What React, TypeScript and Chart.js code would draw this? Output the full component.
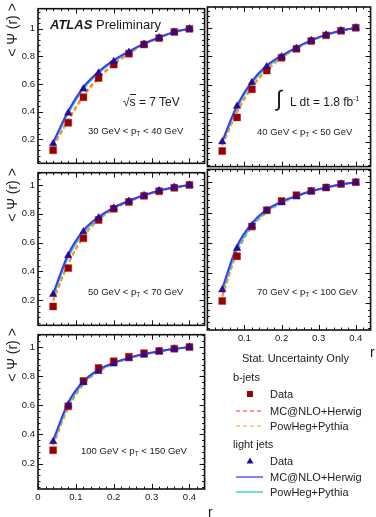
import React, { useEffect, useRef } from 'react';
import { Chart, registerables } from 'chart.js';

Chart.register(...registerables);

const FONT = '"Liberation Sans", Arial, Helvetica, sans-serif';
const TEXT = '#1a1a1a';

// r bin centres
const rBins = [0.04, 0.08, 0.12, 0.16, 0.2, 0.24, 0.28, 0.32, 0.36, 0.4];

// 30 GeV < pT < 40 GeV
const bData1 = [0.12, 0.32, 0.505, 0.644, 0.741, 0.82, 0.887, 0.933, 0.977, 1.0];
const lData1 = [0.168, 0.39, 0.565, 0.68, 0.764, 0.83, 0.889, 0.935, 0.977, 1.0];
const bMcnlo1 = [0.15, 0.345, 0.52, 0.65, 0.745, 0.822, 0.887, 0.935, 0.977, 1.0];
const bPowheg1 = [0.145, 0.335, 0.51, 0.64, 0.74, 0.818, 0.885, 0.933, 0.976, 1.0];
const lMcnlo1 = [0.178, 0.405, 0.578, 0.69, 0.773, 0.837, 0.893, 0.938, 0.978, 1.0];
const lPowheg1 = [0.165, 0.39, 0.565, 0.68, 0.765, 0.832, 0.89, 0.936, 0.977, 1.0];

// 40 GeV < pT < 50 GeV
const bData2 = [0.135, 0.371, 0.568, 0.7, 0.79, 0.852, 0.908, 0.947, 0.979, 1.0];
const lData2 = [0.2, 0.45, 0.616, 0.727, 0.797, 0.857, 0.91, 0.95, 0.98, 1.0];
const bMcnlo2 = [0.18, 0.41, 0.585, 0.705, 0.79, 0.855, 0.908, 0.948, 0.979, 1.0];
const bPowheg2 = [0.175, 0.405, 0.58, 0.7, 0.788, 0.853, 0.907, 0.947, 0.979, 1.0];
const lMcnlo2 = [0.205, 0.455, 0.625, 0.735, 0.805, 0.862, 0.913, 0.952, 0.981, 1.0];
const lPowheg2 = [0.195, 0.44, 0.612, 0.725, 0.798, 0.858, 0.91, 0.95, 0.98, 1.0];

// 50 GeV < pT < 70 GeV
const bData3 = [0.156, 0.422, 0.629, 0.756, 0.834, 0.882, 0.924, 0.956, 0.98, 1.0];
const lData3 = [0.24, 0.51, 0.675, 0.771, 0.839, 0.887, 0.926, 0.96, 0.983, 1.0];
const bMcnlo3 = [0.2, 0.455, 0.645, 0.76, 0.835, 0.885, 0.926, 0.957, 0.981, 1.0];
const bPowheg3 = [0.195, 0.45, 0.64, 0.755, 0.832, 0.884, 0.925, 0.957, 0.981, 1.0];
const lMcnlo3 = [0.245, 0.52, 0.685, 0.778, 0.843, 0.89, 0.928, 0.961, 0.983, 1.0];
const lPowheg3 = [0.23, 0.5, 0.67, 0.77, 0.838, 0.887, 0.927, 0.96, 0.982, 1.0];

// 70 GeV < pT < 100 GeV
const bData4 = [0.217, 0.512, 0.708, 0.815, 0.876, 0.915, 0.943, 0.965, 0.989, 1.0];
const lData4 = [0.29, 0.564, 0.712, 0.813, 0.865, 0.904, 0.939, 0.963, 0.989, 1.0];
const bMcnlo4 = [0.25, 0.54, 0.71, 0.805, 0.866, 0.907, 0.94, 0.964, 0.986, 1.0];
const bPowheg4 = [0.245, 0.535, 0.705, 0.8, 0.863, 0.905, 0.939, 0.963, 0.986, 1.0];
const lMcnlo4 = [0.3, 0.58, 0.73, 0.82, 0.873, 0.91, 0.942, 0.965, 0.987, 1.0];
const lPowheg4 = [0.28, 0.56, 0.715, 0.81, 0.867, 0.907, 0.94, 0.964, 0.986, 1.0];

// 100 GeV < pT < 150 GeV
const bData5 = [0.291, 0.593, 0.767, 0.856, 0.902, 0.933, 0.958, 0.973, 0.989, 1.0];
const lData5 = [0.351, 0.602, 0.756, 0.833, 0.884, 0.92, 0.944, 0.969, 0.987, 1.0];
const bMcnlo5 = [0.33, 0.585, 0.745, 0.835, 0.888, 0.924, 0.95, 0.97, 0.987, 1.0];
const bPowheg5 = [0.325, 0.58, 0.742, 0.832, 0.886, 0.922, 0.949, 0.97, 0.987, 1.0];
const lMcnlo5 = [0.36, 0.62, 0.765, 0.845, 0.892, 0.926, 0.952, 0.971, 0.988, 1.0];
const lPowheg5 = [0.345, 0.605, 0.755, 0.838, 0.888, 0.924, 0.95, 0.97, 0.987, 1.0];

// axis ticks
const xTickValues = [0, 0.1, 0.2, 0.3, 0.4];
const xTickLabels = ['0', '0.1', '0.2', '0.3', '0.4'];
const xTickValuesRight = [0.1, 0.2, 0.3, 0.4];
const xTickLabelsRight = ['0.1', '0.2', '0.3', '0.4'];
const yTickValues = [0.2, 0.4, 0.6, 0.8, 1.0];
const yTickLabels = ['0.2', '0.4', '0.6', '0.8', '1'];
const xMinorTicks = [0.02, 0.04, 0.06, 0.08, 0.12, 0.14, 0.16, 0.18, 0.22, 0.24, 0.26, 0.28, 0.32, 0.34, 0.36, 0.38, 0.42];
const yMinorTicks = [0.04, 0.08, 0.12, 0.16, 0.24, 0.28, 0.32, 0.36, 0.44, 0.48, 0.52, 0.56, 0.64, 0.68, 0.72, 0.76, 0.84, 0.88, 0.92, 0.96, 1.04, 1.08, 1.12];

const C_BSQ = '#990000';
const C_LTRI = '#2c0b8f';
const C_BMC = '#ff3030';
const C_BPOW = '#ff9a1a';
const C_LMC = '#3c3cf5';
const C_LPOW = '#2ad0d0';

const framePlugin = {
  id: 'atlasFrame',
  afterDatasetsDraw(chart: any) {
    const { ctx, chartArea: a, scales } = chart;
    const xs = scales.x;
    const ys = scales.y;
    ctx.save();
    ctx.strokeStyle = '#111';
    ctx.lineWidth = 1;
    ctx.beginPath();
    const xt = (vals: number[], len: number) => {
      for (const v of vals) {
        const px = Math.round(xs.getPixelForValue(v)) + 0.5;
        ctx.moveTo(px, a.bottom);
        ctx.lineTo(px, a.bottom - len);
        ctx.moveTo(px, a.top);
        ctx.lineTo(px, a.top + len);
      }
    };
    const yt = (vals: number[], len: number) => {
      for (const v of vals) {
        const py = Math.round(ys.getPixelForValue(v)) + 0.5;
        if (py < a.top || py > a.bottom) continue;
        ctx.moveTo(a.left, py);
        ctx.lineTo(a.left + len, py);
        ctx.moveTo(a.right, py);
        ctx.lineTo(a.right - len, py);
      }
    };
    xt(xTickValues, 5);
    xt(xMinorTicks, 2.5);
    yt(yTickValues, 5);
    yt(yMinorTicks, 2.5);
    ctx.stroke();
    ctx.lineWidth = 1.6;
    ctx.strokeRect(a.left, a.top, a.right - a.left, a.bottom - a.top);
    ctx.restore();
  },
};

const pts = (ys: number[]) => rBins.map((x, i) => ({ x, y: ys[i] }));

type Series = { bData: number[]; lData: number[]; bMc: number[]; bPow: number[]; lMc: number[]; lPow: number[] };

type PanelProps = {
  left: number;
  top: number;
  width: number;
  height: number;
  pad: { top: number; right: number; bottom: number; left: number };
  yRange: [number, number];
  yWidth: number | null;
  xAxis: { values: number[]; labels: string[]; height: number } | null;
  s: Series;
};

function Panel(p: PanelProps) {
  const ref = useRef<HTMLCanvasElement>(null);
  useEffect(() => {
    const canvas = ref.current!;
    const curve = (data: number[], color: string, dash: number[], width: number) => ({
      type: 'scatter' as const,
      data: pts(data),
      showLine: true,
      borderColor: color,
      borderWidth: width,
      borderDash: dash,
      pointRadius: 0,
      cubicInterpolationMode: 'monotone' as const,
      fill: false,
    });
    const chart = new Chart(canvas, {
      type: 'scatter',
      data: {
        datasets: [
          {
            data: pts(p.s.lData),
            pointStyle: 'triangle',
            pointRadius: 4.3,
            backgroundColor: C_LTRI,
            borderColor: C_LTRI,
            borderWidth: 0.5,
            showLine: false,
          },
          {
            data: pts(p.s.bData),
            pointStyle: 'rect',
            pointRadius: 4.9,
            backgroundColor: C_BSQ,
            borderColor: '#a82020',
            borderWidth: 0.5,
            showLine: false,
          },
          curve(p.s.lMc, C_LMC, [], 2),
          curve(p.s.lPow, C_LPOW, [], 2),
          curve(p.s.bPow, C_BPOW, [4, 3], 2),
          curve(p.s.bMc, C_BMC, [4, 3], 1.5),
        ] as any,
      },
      options: {
        animation: false,
        responsive: false,
        maintainAspectRatio: false,
        devicePixelRatio: 1,
        layout: { padding: p.pad },
        plugins: { legend: { display: false }, tooltip: { enabled: false } },
        events: [],
        scales: {
          x: {
            type: 'linear',
            min: 0,
            max: 0.44,
            bounds: 'data',
            display: !!p.xAxis,
            grid: { display: false, drawTicks: false, tickLength: 0 },
            border: { display: false },
            ticks: {
              font: { family: FONT, size: 9.5 },
              color: TEXT,
              padding: 3,
              maxRotation: 0,
              autoSkip: false,
              callback: (_v: any, i: number) => (p.xAxis ? p.xAxis.labels[i] : ''),
            },
            afterBuildTicks: (sc: any) => {
              if (p.xAxis) sc.ticks = p.xAxis.values.map((v) => ({ value: v }));
            },
            afterFit: (sc: any) => {
              if (p.xAxis) sc.height = p.xAxis.height;
            },
          },
          y: {
            type: 'linear',
            min: p.yRange[0],
            max: p.yRange[1],
            bounds: 'data',
            display: p.yWidth !== null,
            grid: { display: false, drawTicks: false, tickLength: 0 },
            border: { display: false },
            ticks: {
              font: { family: FONT, size: 9.5 },
              color: TEXT,
              padding: 3,
              autoSkip: false,
              callback: (_v: any, i: number) => yTickLabels[i],
            },
            afterBuildTicks: (sc: any) => {
              sc.ticks = yTickValues.map((v) => ({ value: v }));
            },
            afterFit: (sc: any) => {
              if (p.yWidth !== null) sc.width = p.yWidth;
            },
          },
        },
      } as any,
      plugins: [framePlugin],
    });
    return () => chart.destroy();
  }, []);
  return (
    <canvas
      ref={ref}
      width={p.width}
      height={p.height}
      style={{ position: 'absolute', left: p.left, top: p.top, width: p.width, height: p.height }}
    />
  );
}

function T(props: { x: number; y: number; size: number; children: any; style?: any }) {
  return (
    <div
      style={{
        position: 'absolute',
        left: props.x,
        top: props.y,
        transform: 'translateY(-50%)',
        fontSize: props.size,
        lineHeight: 1,
        whiteSpace: 'nowrap',
        color: TEXT,
        fontFamily: FONT,
        ...(props.style || {}),
      }}
    >
      {props.children}
    </div>
  );
}

function PtLabel(props: { x: number; y: number; lo: string; hi: string }) {
  return (
    <T x={props.x} y={props.y} size={9.5}>
      {props.lo} GeV &lt; p<sub style={{ fontSize: 6.5, verticalAlign: -2 }}>T</sub> &lt; {props.hi} GeV
    </T>
  );
}

function YTitle(props: { cy: number }) {
  return (
    <div
      style={{
        position: 'absolute',
        left: 12,
        top: props.cy,
        transform: 'translate(-50%, -50%) rotate(-90deg)',
        fontSize: 14,
        lineHeight: 1,
        whiteSpace: 'nowrap',
        color: TEXT,
        fontFamily: FONT,
      }}
    >
      &lt; Ψ (r) &gt;
    </div>
  );
}

export default function App() {
  const rangeTop: [number, number] = [0.026, 1.146];
  const rangeLow: [number, number] = [0.025, 1.085];
  return (
    <div
      style={{
        position: 'fixed',
        left: 0,
        top: 0,
        width: 376,
        height: 517,
        background: '#fff',
        fontFamily: FONT,
        overflow: 'hidden',
      }}
    >
      <Panel
        left={0} top={0} width={210} height={172}
        pad={{ top: 7, right: 5, bottom: 4, left: 0 }}
        yRange={rangeTop} yWidth={38} xAxis={null}
        s={{ bData: bData1, lData: lData1, bMc: bMcnlo1, bPow: bPowheg1, lMc: lMcnlo1, lPow: lPowheg1 }}
      />
      <Panel
        left={202} top={0} width={174} height={172}
        pad={{ top: 7, right: 4, bottom: 4, left: 4 }}
        yRange={rangeTop} yWidth={null} xAxis={null}
        s={{ bData: bData2, lData: lData2, bMc: bMcnlo2, bPow: bPowheg2, lMc: lMcnlo2, lPow: lPowheg2 }}
      />
      <Panel
        left={0} top={164} width={210} height={170}
        pad={{ top: 4, right: 5, bottom: 4, left: 0 }}
        yRange={rangeLow} yWidth={38} xAxis={null}
        s={{ bData: bData3, lData: lData3, bMc: bMcnlo3, bPow: bPowheg3, lMc: lMcnlo3, lPow: lPowheg3 }}
      />
      <Panel
        left={202} top={164} width={174} height={186}
        pad={{ top: 4, right: 4, bottom: 0, left: 4 }}
        yRange={rangeLow} yWidth={null}
        xAxis={{ values: xTickValuesRight, labels: xTickLabelsRight, height: 20 }}
        s={{ bData: bData4, lData: lData4, bMc: bMcnlo4, bPow: bPowheg4, lMc: lMcnlo4, lPow: lPowheg4 }}
      />
      <Panel
        left={0} top={326} width={210} height={191}
        pad={{ top: 4, right: 5, bottom: 0, left: 0 }}
        yRange={rangeLow} yWidth={38}
        xAxis={{ values: xTickValues, labels: xTickLabels, height: 28 }}
        s={{ bData: bData5, lData: lData5, bMc: bMcnlo5, bPow: bPowheg5, lMc: lMcnlo5, lPow: lPowheg5 }}
      />

      <YTitle cy={30} />
      <YTitle cy={195} />
      <YTitle cy={355} />

      <T x={50} y={24} size={13}>
        <span style={{ fontWeight: 'bold', fontStyle: 'italic' }}>ATLAS</span> Preliminary
      </T>
      <T x={123} y={102} size={12}>
        √<span style={{ borderTop: '1px solid #1a1a1a' }}>s</span> = 7 TeV
      </T>
      <PtLabel x={88} y={132} lo="30" hi="40" />

      <T x={276} y={99} size={22}>∫</T>
      <T x={290} y={101} size={12}>
        L dt = 1.8 fb<sup style={{ fontSize: 7, verticalAlign: 5 }}>-1</sup>
      </T>
      <PtLabel x={257} y={133} lo="40" hi="50" />
      <PtLabel x={88} y={293} lo="50" hi="70" />
      <PtLabel x={257} y={293} lo="70" hi="100" />
      <PtLabel x={81} y={452} lo="100" hi="150" />

      <T x={208} y={512} size={14}>r</T>
      <T x={370} y={352} size={14}>r</T>

      <T x={242} y={358} size={11}>Stat. Uncertainty Only</T>
      <T x={233} y={377} size={11}>b-jets</T>
      <T x={270} y={394} size={11}>Data</T>
      <T x={270} y={411} size={11}>MC@NLO+Herwig</T>
      <T x={270} y={426} size={11}>PowHeg+Pythia</T>
      <T x={233} y={444} size={11}>light jets</T>
      <T x={270} y={461} size={11}>Data</T>
      <T x={270} y={477} size={11}>MC@NLO+Herwig</T>
      <T x={270} y={492} size={11}>PowHeg+Pythia</T>

      <svg
        width={376}
        height={517}
        style={{ position: 'absolute', left: 0, top: 0, pointerEvents: 'none' }}
      >
        <rect x={247} y={391} width={6} height={6} fill={C_BSQ} />
        <line x1={236} y1={411} x2={263} y2={411} stroke={C_BMC} strokeWidth={1} strokeDasharray="4 3" />
        <line x1={236} y1={426} x2={263} y2={426} stroke={C_BPOW} strokeWidth={1} strokeDasharray="4 3" />
        <polygon points="250,457.5 246.5,463.5 253.5,463.5" fill={C_LTRI} />
        <line x1={236} y1={477} x2={263} y2={477} stroke="#5a5aff" strokeWidth={1.5} />
        <line x1={236} y1={492} x2={263} y2={492} stroke="#3cd6d6" strokeWidth={1.5} />
      </svg>
    </div>
  );
}
